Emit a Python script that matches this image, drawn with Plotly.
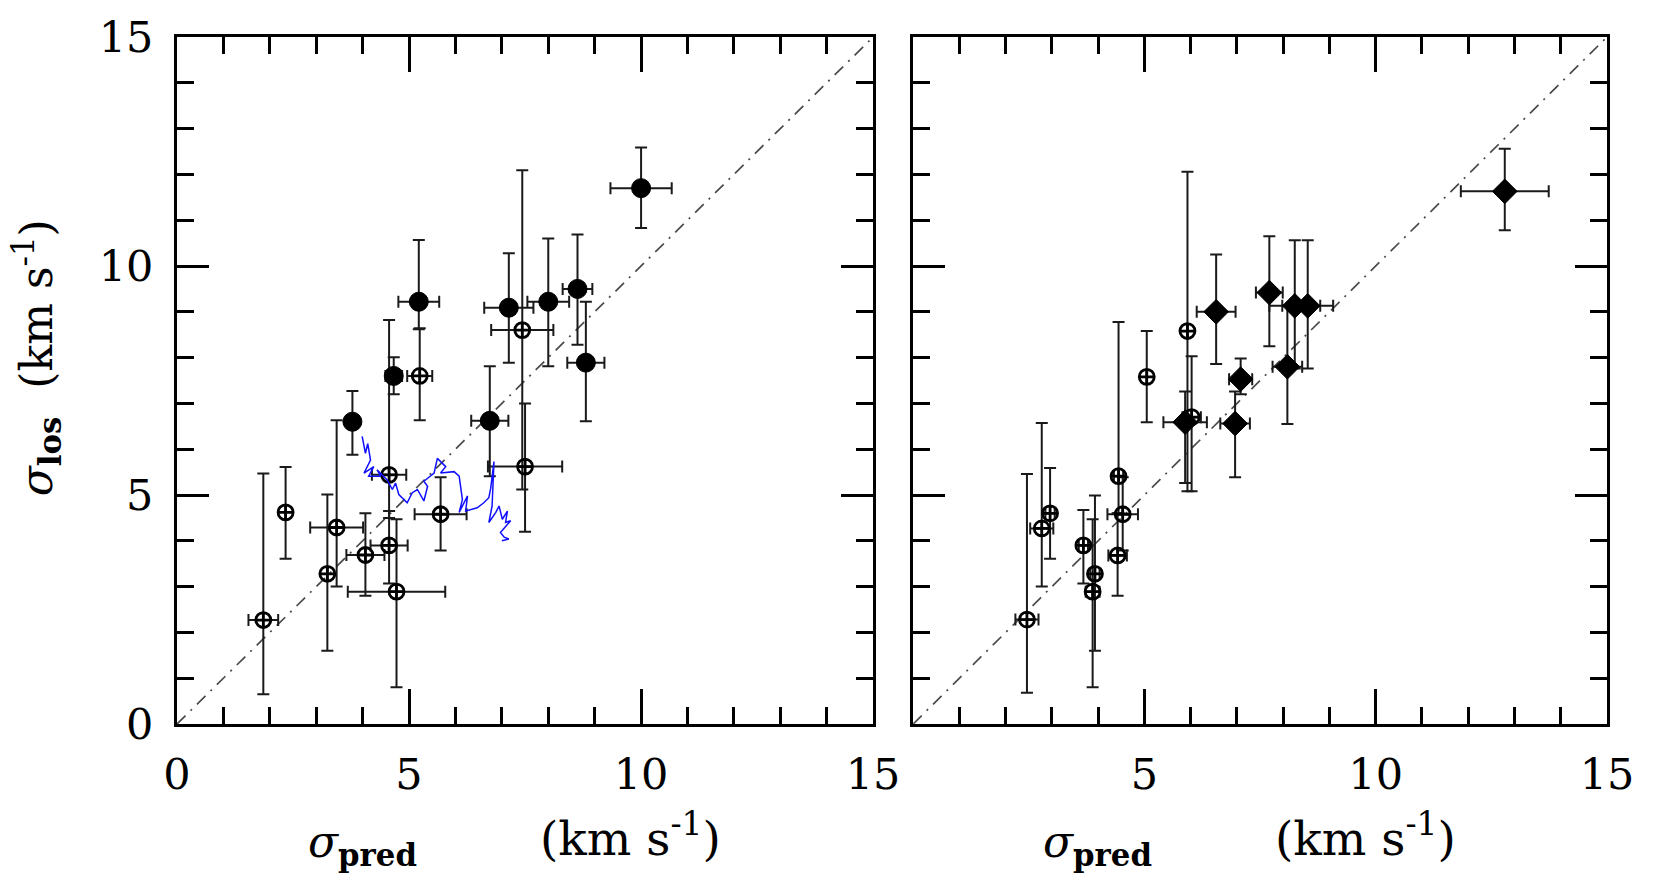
import plotly.graph_objects as go

# ---------------- data ----------------
# Left panel: filled circles
L_fill_x = [10.0, 5.21, 7.15, 8.0, 8.63, 8.81, 4.67, 3.78, 6.74]
L_fill_y = [11.7, 9.22, 9.09, 9.22, 9.5, 7.89, 7.6, 6.6, 6.62]
L_fill_xe = [0.66, 0.44, 0.53, 0.45, 0.32, 0.4, 0.18, 0.0, 0.4]
L_fill_yep = [0.89, 1.35, 1.19, 1.38, 1.19, 1.33, 0.41, 0.67, 1.19]
L_fill_yem = [0.87, 0.6, 1.2, 1.41, 1.22, 1.28, 0.4, 0.72, 1.21]

# Left panel: open circles
L_open_x = [7.44, 5.23, 7.5, 4.57, 3.44, 3.24, 2.34, 4.06, 4.57, 4.73, 5.68, 1.86]
L_open_y = [8.6, 7.6, 5.62, 5.44, 4.29, 3.28, 4.62, 3.69, 3.9, 2.89, 4.58, 2.27]
L_open_xe = [0.67, 0.27, 0.8, 0.37, 0.57, 0.0, 0.0, 0.41, 0.4, 1.05, 0.56, 0.32]
L_open_yep = [3.49, 1.04, 1.38, 3.38, 2.34, 1.73, 0.99, 0.91, 0.75, 1.58, 0.81, 3.2]
L_open_yem = [3.48, 0.97, 1.42, 0.94, 1.29, 1.68, 1.01, 0.89, 0.83, 2.09, 0.79, 1.62]

# Left panel: blue track
track_x = [3.99, 4.06, 4.11, 4.17, 4.03, 4.24, 4.13, 4.39, 4.31, 4.53, 4.64, 4.71,
           4.78, 4.96, 5.07, 5.18, 5.32, 5.40, 5.32, 5.54, 5.61, 5.79, 5.68, 5.97,
           6.08, 6.15, 6.08, 6.18, 6.26, 6.22, 6.47, 6.61, 6.72, 6.76, 6.83, 6.79,
           6.72, 6.87, 6.94, 7.01, 7.12, 7.08, 7.19, 6.97, 7.05, 7.15, 7.00]
track_y = [6.28, 5.91, 6.12, 5.76, 5.48, 5.62, 5.41, 5.41, 5.55, 5.33, 5.12, 5.26,
           5.01, 4.83, 5.05, 5.12, 4.87, 5.19, 5.30, 5.48, 5.80, 5.62, 5.48, 5.51,
           5.41, 4.90, 4.62, 4.83, 4.98, 4.65, 4.72, 4.83, 4.94, 5.15, 5.73, 4.76,
           4.40, 4.62, 4.76, 4.47, 4.65, 4.40, 4.44, 4.18, 4.08, 4.04, 4.00]

# Right panel: filled diamonds
R_fill_x = [12.79, 6.55, 7.7, 8.25, 8.53, 8.09, 7.08, 5.88, 6.96]
R_fill_y = [11.63, 9.0, 9.42, 9.13, 9.13, 7.8, 7.53, 6.59, 6.56]
R_fill_xe = [0.95, 0.42, 0.29, 0.55, 0.55, 0.32, 0.25, 0.47, 0.32]
R_fill_yep = [0.93, 1.25, 1.23, 1.43, 1.43, 1.33, 0.45, 0.67, 0.7]
R_fill_yem = [0.85, 1.14, 1.17, 1.37, 1.37, 1.25, 0.33, 1.33, 1.17]

# Right panel: open circles
R_open_x = [5.93, 5.05, 6.02, 4.44, 4.53, 4.42, 2.96, 2.78, 3.68, 3.93, 3.88, 2.46]
R_open_y = [8.58, 7.58, 6.7, 5.41, 4.58, 3.68, 4.6, 4.27, 3.9, 3.28, 2.89, 2.28]
R_open_xe = [0.0, 0.0, 0.2, 0.1, 0.33, 0.2, 0.1, 0.25, 0.1, 0.1, 0.15, 0.25]
R_open_yep = [3.48, 1.0, 1.33, 3.37, 0.81, 0.92, 0.99, 2.3, 0.77, 1.71, 1.58, 3.18]
R_open_yem = [3.5, 0.99, 1.62, 0.81, 0.79, 0.88, 0.99, 1.27, 0.83, 1.68, 2.09, 1.6]

one_to_one = [0, 15]
tick_vals = [0, 5, 10, 15]
left_x_ticktext = ["0", "5", "10", "15"]
right_x_ticktext = ["", "5", "10", "15"]
y_ticktext = ["0", "5", "10", "15"]

# ---------------- figure ----------------
FONT = "DejaVu Serif"
ERRC = "#1a1a1a"
W, H = 1659, 894
ML, MR, MT, MB = 177, 52, 29, 170
PW, PH = W - ML - MR, H - MT - MB


def px(x):
    return (x - ML) / PW


def py(y):
    return (H - MB - y) / PH


fig = go.Figure()


def add_points(x, y, xe, yep, yem, xa, ya, symbol, size, lw):
    fig.add_trace(go.Scatter(
        x=x, y=y, mode="markers", xaxis=xa, yaxis=ya, showlegend=False,
        marker=dict(symbol=symbol, size=size, color="black",
                    line=dict(color="black", width=lw)),
        error_x=dict(type="data", array=xe, symmetric=True, color=ERRC,
                     thickness=2, width=6),
        error_y=dict(type="data", array=yep, arrayminus=yem, symmetric=False,
                     color=ERRC, thickness=2, width=6),
    ))


for xa, ya in (("x", "y"), ("x2", "y2")):
    fig.add_trace(go.Scatter(
        x=one_to_one, y=one_to_one, mode="lines", xaxis=xa, yaxis=ya,
        showlegend=False, line=dict(color="#4a4a4a", width=1.7,
                                    dash="12px,7px,2px,7px")))

add_points(L_open_x, L_open_y, L_open_xe, L_open_yep, L_open_yem, "x", "y",
           "circle-cross-open", 15, 2.8)
add_points(L_fill_x, L_fill_y, L_fill_xe, L_fill_yep, L_fill_yem, "x", "y",
           "circle", 19, 1)
fig.add_trace(go.Scatter(x=track_x, y=track_y, mode="lines", xaxis="x",
                         yaxis="y", showlegend=False,
                         line=dict(color="#1010ff", width=1.5)))
add_points(R_open_x, R_open_y, R_open_xe, R_open_yep, R_open_yem, "x2", "y2",
           "circle-cross-open", 15, 2.8)
add_points(R_fill_x, R_fill_y, R_fill_xe, R_fill_yep, R_fill_yem, "x2", "y2",
           "diamond", 19, 1)

axis_common = dict(
    range=[0, 15], showgrid=False, zeroline=False, showline=True,
    linecolor="black", linewidth=3, mirror="allticks",
    ticks="inside", tickwidth=3, tickcolor="black",
    tickmode="array", tickvals=tick_vals,
    minor=dict(ticks="inside", dtick=1, tick0=0, ticklen=17, tickwidth=2.5,
               tickcolor="black", showgrid=False),
    tickfont=dict(family=FONT, size=43, color="black"),
)

fig.update_layout(
    width=W, height=H,
    paper_bgcolor="white", plot_bgcolor="white",
    margin=dict(l=ML, r=MR, t=MT, b=MB),
    xaxis=dict(axis_common, domain=[0, 0.4868], anchor="y", ticklen=35,
               ticktext=left_x_ticktext, ticklabelstandoff=10),
    yaxis=dict(axis_common, domain=[0, 1], anchor="x", ticklen=32,
               ticktext=y_ticktext, ticklabelstandoff=12),
    xaxis2=dict(axis_common, domain=[0.5148, 1], anchor="y2", ticklen=35,
                ticktext=right_x_ticktext, ticklabelstandoff=10),
    yaxis2=dict(axis_common, domain=[0, 1], anchor="x2", ticklen=32,
                ticktext=y_ticktext, showticklabels=False),
)

title_font = dict(family=FONT, size=44, color="black")
unit_font = dict(family=FONT, size=47, color="black")
ann = []
for sx, kx in ((362, 630), (1097, 1365)):
    ann.append(dict(x=px(sx), y=py(846), xref="paper", yref="paper",
                    text="<i>σ</i><sub><b>pred</b></sub>", showarrow=False,
                    font=title_font, xanchor="center", yanchor="middle"))
    ann.append(dict(x=px(kx), y=py(836), xref="paper", yref="paper",
                    text="(km s<sup>-1</sup>)", showarrow=False,
                    font=unit_font, xanchor="center", yanchor="middle"))
ann.append(dict(x=px(37), y=py(354), xref="paper", yref="paper",
                text="<i>σ</i><sub><b>los</b></sub>  (km s<sup>-1</sup>)",
                showarrow=False, textangle=-90, font=title_font,
                xanchor="center", yanchor="middle"))
fig.update_layout(annotations=ann)

fig.write_html("out.html")
